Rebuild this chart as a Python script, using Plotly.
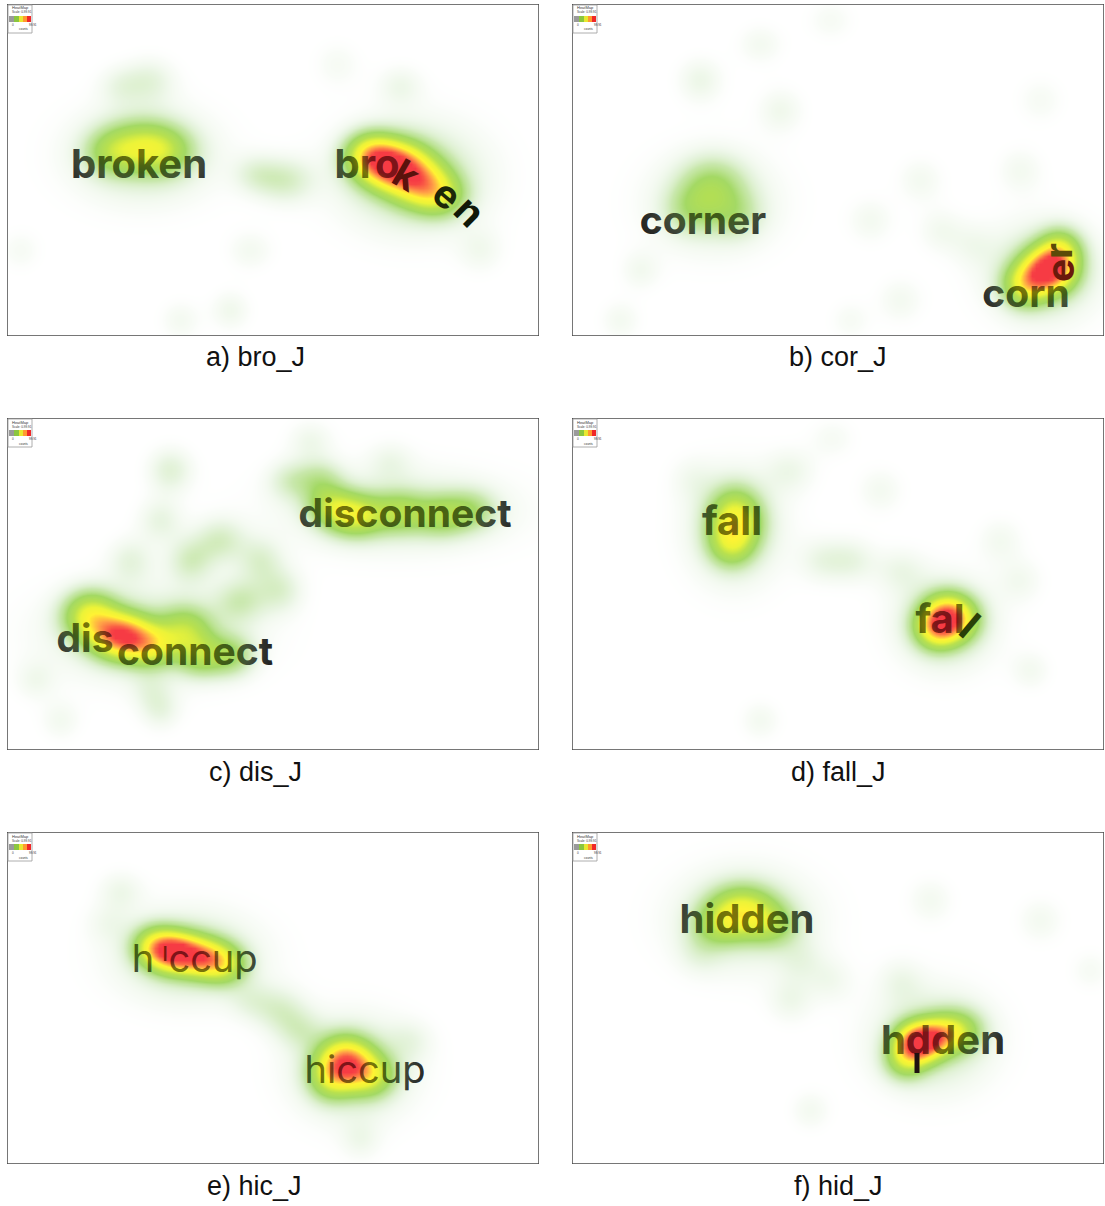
import numpy as np
import plotly.graph_objects as go

# ---------------- geometry (page pixels) ----------------
FIG_W, FIG_H = 1105, 1206
PW, PH = 532, 332
PANEL_X0 = [7, 572, 7, 572, 7, 572]
PANEL_Y0 = [4, 4, 418, 418, 832, 832]

# ---------------- captions ----------------
captions = ["a) bro_J", "b) cor_J", "c) dis_J", "d) fall_J", "e) hic_J", "f) hid_J"]
caption_x = [255, 838, 255, 838, 254, 838]
caption_y = [357, 357, 772, 772, 1186, 1186]

# ---------------- fixation data (panel pixel coords) ----------------
# a) bro_J
bro_fx = [134, 104, 158, 135, 385, 363, 413, 433, 405, 143, 113, 278, 248, 393, 243, 223, 173, 473, 13, 330]
bro_fy = [142, 148, 147, 150, 161, 149, 179, 192, 172, 76, 81, 176, 170, 81, 246, 306, 316, 246, 246, 60]
bro_fw = [0.32, 0.20, 0.20, 0.13, 0.90, 0.42, 0.52, 0.28, 0.16, 0.08, 0.06, 0.12, 0.08, 0.06, 0.05, 0.06, 0.05, 0.05, 0.04, 0.04]
bro_sx = [24, 18, 20, 50, 22, 17, 20, 17, 50, 18, 16, 20, 16, 16, 16, 14, 14, 16, 14, 16]
bro_sy = [17, 15, 16, 34, 16, 14, 16, 14, 38, 16, 14, 16, 14, 14, 14, 14, 14, 16, 14, 16]

# b) cor_J
cor_fx = [140, 118, 163, 140, 476, 453, 488, 470, 128, 208, 188, 298, 348, 368, 68, 48, 278, 328, 448, 468, 258, 400]
cor_fy = [184, 206, 211, 198, 266, 281, 246, 268, 76, 106, 40, 216, 176, 226, 266, 316, 316, 296, 166, 96, 16, 240]
cor_fw = [0.22, 0.12, 0.11, 0.10, 0.92, 0.42, 0.38, 0.15, 0.07, 0.06, 0.05, 0.05, 0.05, 0.05, 0.05, 0.05, 0.04, 0.05, 0.05, 0.04, 0.04, 0.04]
cor_sx = [22, 18, 18, 46, 17, 15, 14, 38, 16, 16, 16, 16, 16, 16, 14, 14, 14, 16, 16, 16, 16, 16]
cor_sy = [20, 16, 16, 36, 15, 14, 14, 34, 16, 16, 14, 16, 16, 16, 14, 14, 14, 16, 16, 16, 14, 16]

# c) dis_J
dis_fx = [348, 323, 393, 433, 463, 313, 390, 83, 113, 143, 178, 193, 223, 140, 163, 213, 253, 183, 233, 123, 153, 283, 273, 153, 53, 28, 143, 303, 383]
dis_fy = [97, 87, 94, 97, 92, 62, 92, 197, 217, 227, 212, 237, 237, 215, 52, 122, 142, 142, 182, 142, 102, 62, 172, 292, 302, 262, 272, 22, 42]
dis_fw = [0.45, 0.26, 0.26, 0.24, 0.18, 0.15, 0.10, 0.48, 0.82, 0.42, 0.30, 0.26, 0.22, 0.12, 0.10, 0.12, 0.10, 0.12, 0.12, 0.08, 0.08, 0.10, 0.10, 0.07, 0.05, 0.05, 0.05, 0.06, 0.05]
dis_sx = [20, 16, 18, 18, 18, 16, 80, 18, 20, 18, 18, 16, 16, 70, 16, 18, 16, 16, 18, 16, 16, 16, 16, 14, 14, 14, 14, 16, 16]
dis_sy = [14, 13, 14, 14, 14, 14, 30, 16, 15, 14, 16, 14, 14, 34, 16, 16, 16, 16, 16, 16, 16, 14, 16, 14, 14, 14, 14, 14, 14]

# d) fall_J
fall_fx = [163, 158, 162, 376, 363, 372, 218, 308, 278, 248, 328, 428, 448, 188, 458, 120, 260]
fall_fy = [102, 127, 110, 200, 212, 205, 52, 72, 142, 142, 152, 122, 162, 302, 252, 60, 20]
fall_fw = [0.52, 0.24, 0.12, 0.92, 0.33, 0.14, 0.06, 0.05, 0.08, 0.06, 0.06, 0.05, 0.05, 0.05, 0.05, 0.04, 0.04]
fall_sx = [17, 15, 34, 17, 14, 34, 18, 16, 18, 16, 18, 16, 16, 14, 14, 16, 16]
fall_sy = [20, 15, 40, 15, 13, 32, 16, 16, 16, 16, 16, 16, 16, 14, 14, 16, 14]

# e) hic_J
hic_fx = [168, 198, 148, 218, 180, 338, 363, 323, 345, 113, 273, 293, 243, 353, 403, 100]
hic_fy = [120, 126, 113, 133, 124, 230, 243, 248, 236, 58, 178, 198, 168, 308, 208, 90]
hic_fw = [0.90, 0.56, 0.36, 0.30, 0.14, 0.80, 0.36, 0.26, 0.14, 0.06, 0.10, 0.08, 0.06, 0.05, 0.05, 0.04]
hic_sx = [18, 17, 15, 15, 50, 18, 16, 15, 42, 16, 18, 16, 16, 14, 16, 16]
hic_sy = [13, 13, 13, 13, 32, 16, 14, 14, 36, 14, 16, 14, 14, 14, 14, 14]

# f) hid_J
hid_fx = [170, 148, 198, 172, 346, 368, 333, 388, 360, 128, 218, 228, 258, 328, 358, 468, 518, 238]
hid_fy = [78, 93, 93, 86, 210, 203, 228, 198, 208, 118, 168, 128, 148, 148, 68, 88, 138, 278]
hid_fw = [0.46, 0.22, 0.22, 0.12, 0.96, 0.46, 0.30, 0.26, 0.14, 0.06, 0.06, 0.05, 0.05, 0.05, 0.05, 0.05, 0.04, 0.05]
hid_sx = [22, 18, 18, 50, 15, 15, 14, 16, 42, 16, 16, 16, 16, 16, 16, 16, 14, 14]
hid_sy = [16, 14, 14, 36, 13, 13, 13, 14, 36, 16, 16, 16, 16, 16, 16, 16, 14, 14]

fixations = [
    (bro_fx, bro_fy, bro_fw, bro_sx, bro_sy),
    (cor_fx, cor_fy, cor_fw, cor_sx, cor_sy),
    (dis_fx, dis_fy, dis_fw, dis_sx, dis_sy),
    (fall_fx, fall_fy, fall_fw, fall_sx, fall_sy),
    (hic_fx, hic_fy, hic_fw, hic_sx, hic_sy),
    (hid_fx, hid_fy, hid_fw, hid_sx, hid_sy),
]

# ---------------- stimulus words (upright text, panel coords) ----------------
bro_words, bro_wx, bro_wy = ["broken", "bro"], [132, 360], [164, 164]
cor_words, cor_wx, cor_wy = ["corner", "corn"], [131, 454], [220, 293]
dis_words, dis_wx, dis_wy = ["disconnect", "dis", "connect"], [398, 78, 188], [99, 224, 237]
fall_words, fall_wx, fall_wy = ["fall", "fal"], [160, 368], [107, 205]
hic_words, hic_wx, hic_wy = ["h", "ccup", "hiccup"], [136, 206, 358], [130, 130, 241]
hid_words, hid_wx, hid_wy = ["hidden", "hdden"], [175, 371], [91, 212]

words = [
    (bro_words, bro_wx, bro_wy),
    (cor_words, cor_wx, cor_wy),
    (dis_words, dis_wx, dis_wy),
    (fall_words, fall_wx, fall_wy),
    (hic_words, hic_wx, hic_wy),
    (hid_words, hid_wx, hid_wy),
]

# displaced / rotated letters: (panel, letter, x, y, angle)
rot_panel = [0, 0, 0, 1, 1, 3, 4]
rot_letter = ["k", "e", "n", "e", "r", "l", "ı"]
rot_x = [399, 440, 463, 487, 486, 398, 158]
rot_y = [171, 190, 207, 267, 247, 207, 119]
rot_angle = [30, 40, 45, -90, -90, 40, 0]
rot_color = ["#5a120c", "#1c2808", "#101808", "#6a1a0c", "#5a4a08", "#2a4008", "#7a1a0c"]

# fallen stem of the "i" in "hdden" (panel f): x, y-top, y-bottom
stem_x, stem_y0, stem_y1 = 345, 221, 241

# ---------------- styles ----------------
WORD_FONT = "Inter"
WORD_SIZE = [40, 39, 39, 40, 38, 40]
WORD_WEIGHT = [700, 700, 700, 700, 400, 700]
ROT_SIZE = [39, 39, 39, 39, 39, 40, 26]
TEXT_COLOR = "#111111"
TEXT_TINT = "rgba(17,17,17,0.45)"

heat_scale = [
    [0.00, "rgba(255,255,255,0)"],
    [0.03, "rgba(222,239,214,0.18)"],
    [0.08, "rgba(200,230,184,0.40)"],
    [0.16, "rgba(165,216,118,0.60)"],
    [0.27, "rgba(128,202,40,0.72)"],
    [0.40, "rgba(160,214,20,0.75)"],
    [0.54, "rgba(230,240,0,0.78)"],
    [0.67, "rgba(255,240,0,0.80)"],
    [0.82, "rgba(255,140,30,0.82)"],
    [1.00, "rgba(245,25,35,0.85)"],
]


def density(fx, fy, fw, sx, sy):
    gx = np.arange(0, PW + 1, 4, dtype=float)
    gy = np.arange(0, PH + 1, 4, dtype=float)
    X, Y = np.meshgrid(gx, gy)
    z = np.zeros_like(X)
    for x, y, w, a, b in zip(fx, fy, fw, sx, sy):
        z += w * np.exp(-((X - x) ** 2 / (2 * a * a) + (Y - y) ** 2 / (2 * b * b)))
    return gx, gy, np.clip(z, 0, 1)


fig = go.Figure()
layout = {}
shapes = []
annotations = []


def ax_name(i):
    return "" if i == 1 else str(i)


for p in range(6):
    base = p + 1
    over = p + 7
    x0 = PANEL_X0[p]
    y0 = PANEL_Y0[p]
    xd = [x0 / FIG_W, (x0 + PW) / FIG_W]
    yd = [1 - (y0 + PH) / FIG_H, 1 - y0 / FIG_H]
    layout["xaxis" + ax_name(base)] = dict(domain=xd, range=[0, PW], visible=False,
                                           anchor="y" + ax_name(base), fixedrange=True)
    layout["yaxis" + ax_name(base)] = dict(domain=yd, range=[PH, 0], visible=False,
                                           anchor="x" + ax_name(base), fixedrange=True)
    layout["xaxis" + str(over)] = dict(domain=xd, range=[0, PW], visible=False,
                                       overlaying="x" + ax_name(base), anchor="y" + str(over),
                                       fixedrange=True)
    layout["yaxis" + str(over)] = dict(domain=yd, range=[PH, 0], visible=False,
                                       overlaying="y" + ax_name(base), anchor="x" + str(over),
                                       fixedrange=True)

    xa = "x" + ax_name(base)
    ya = "y" + ax_name(base)
    xo = "x" + str(over)
    yo = "y" + str(over)

    wt, wx, wy = words[p]
    # words under the heat overlay
    fig.add_trace(go.Scatter(
        x=wx, y=wy, text=wt, mode="text", textposition="middle center",
        textfont=dict(family=WORD_FONT, size=WORD_SIZE[p], color=TEXT_COLOR,
                      weight=WORD_WEIGHT[p]),
        xaxis=xa, yaxis=ya, hoverinfo="skip", showlegend=False))

    # heat overlay
    fx, fy, fw, sx, sy = fixations[p]
    gx, gy, z = density(fx, fy, fw, sx, sy)
    fig.add_trace(go.Heatmap(
        x=gx, y=gy, z=z, zmin=0, zmax=1, colorscale=heat_scale, zsmooth="best",
        showscale=False, hoverinfo="skip", xaxis=xo, yaxis=yo))

    # translucent copy of the words on top, so they stay readable but tinted
    fig.add_trace(go.Scatter(
        x=wx, y=wy, text=wt, mode="text", textposition="middle center",
        textfont=dict(family=WORD_FONT, size=WORD_SIZE[p], color=TEXT_TINT,
                      weight=WORD_WEIGHT[p]),
        xaxis=xo, yaxis=yo, hoverinfo="skip", showlegend=False))

    # frame
    shapes.append(dict(type="rect", xref=xa, yref=ya, x0=0, x1=PW, y0=0, y1=PH,
                       line=dict(color="#4a4a4a", width=1.5), layer="above"))

    # tiny legend box in the corner
    shapes.append(dict(type="rect", xref=xa, yref=ya, x0=1, x1=25, y0=1, y1=29,
                       line=dict(color="#999999", width=0.8), fillcolor="white", layer="above"))
    for cx0, cx1, col in [(2, 7, "#9a9a9a"), (7, 12, "#8bc63f"), (12, 16, "#e8e830"),
                          (16, 20, "#ff9a30"), (20, 24, "#f02828")]:
        shapes.append(dict(type="rect", xref=xa, yref=ya, x0=cx0, x1=cx1, y0=12, y1=18,
                           line=dict(width=0), fillcolor=col, layer="above"))
    for tx, ty, tt, ts in [(3, 4, "HeatMap", 4), (3, 8.5, "Scale: 0-99.91", 3),
                           (3, 21, "0", 3), (20, 21, "99.91", 3), (10, 25.5, "counts", 3)]:
        annotations.append(dict(xref=xa, yref=ya, x=tx, y=ty, text=tt, showarrow=False,
                                xanchor="left", yanchor="middle",
                                font=dict(family="Liberation Sans", size=ts, color="#333")))

    # caption
    annotations.append(dict(xref="paper", yref="paper", x=caption_x[p] / FIG_W,
                            y=1 - caption_y[p] / FIG_H, text=captions[p],
                            showarrow=False, xanchor="center", yanchor="middle",
                            font=dict(family="Liberation Sans", size=27, color="#111111")))

# fallen "i" stem in panel f
shapes.append(dict(type="line", xref="x6", yref="y6", x0=stem_x, x1=stem_x,
                   y0=stem_y0, y1=stem_y1, line=dict(color="#1e1010", width=5),
                   layer="above"))

# displaced / rotated letters
for k in range(len(rot_letter)):
    p = rot_panel[k]
    xa = "x" + ax_name(p + 1)
    ya = "y" + ax_name(p + 1)
    annotations.append(dict(xref=xa, yref=ya, x=rot_x[k], y=rot_y[k], text=rot_letter[k],
                            showarrow=False, textangle=rot_angle[k], xanchor="center",
                            yanchor="middle",
                            font=dict(family=WORD_FONT, size=ROT_SIZE[k], color=rot_color[k],
                                      weight=WORD_WEIGHT[p])))

fig.update_layout(
    width=FIG_W, height=FIG_H, margin=dict(l=0, r=0, t=0, b=0),
    paper_bgcolor="white", plot_bgcolor="white", showlegend=False, hovermode=False,
    shapes=shapes, annotations=annotations, **layout)

# remove the default 8px page margin so the figure sits at the window origin
fig.write_html("out.html", config={"displayModeBar": False},
               post_script="document.body.style.margin='0px';")
